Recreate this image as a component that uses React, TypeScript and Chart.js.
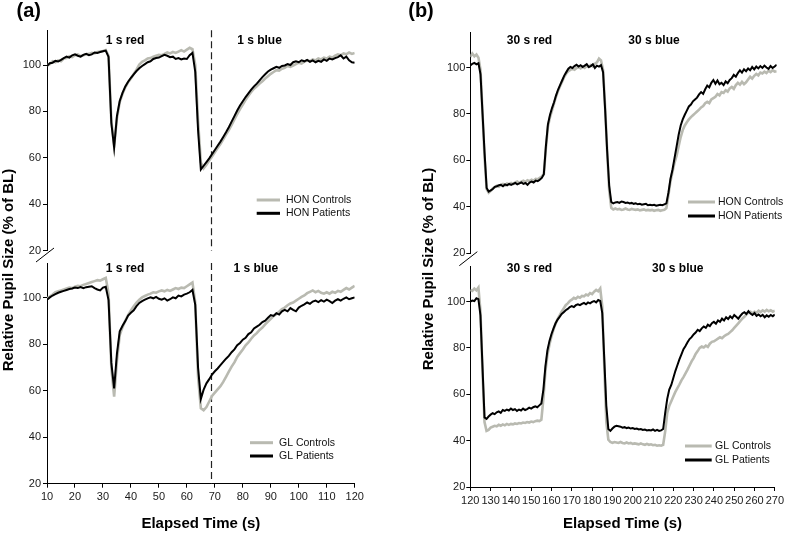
import React, { useEffect, useRef } from 'react';
import { Chart, registerables } from 'chart.js';
Chart.register(...registerables);

const FONT = "'Liberation Sans', Arial, Helvetica, sans-serif";
const GRAY = '#b9bab1';
const BLACK = '#000000';

// ---------- axes ----------
const T_START_A = 10;
const T_END_A = 120;
const T_START_B = 120;
const T_END_B = 270;
const TIME_A = Array.from({ length: T_END_A - T_START_A + 1 }, (_, i) => T_START_A + i);
const TIME_B = Array.from({ length: T_END_B - T_START_B + 1 }, (_, i) => T_START_B + i);
const X_TICKS_A = [10, 20, 30, 40, 50, 60, 70, 80, 90, 100, 110, 120];
const X_TICKS_B = [120, 130, 140, 150, 160, 170, 180, 190, 200, 210, 220, 230, 240, 250, 260, 270];
const Y_TICKS = [20, 40, 60, 80, 100];
const Y_MIN = 20;
const Y_MAX = 115;
const STIM_LINE_A = 68.8;

// ---------- panel (a) top: HON, 1 s stimuli (t = 10..120 s) ----------
const HON_CONTROLS_A = [
  99.8, 100.4, 101.6, 101.2, 102, 101.6, 102.8, 103, 103.8, 103.4,
  104.2, 104.6, 103.8, 104.2, 104.6, 104.8, 105.2, 105, 105.6, 105.8,
  106, 106.4, 104, 76, 65, 77, 84, 87.6, 90.4, 92.6,
  94.2, 96.2, 98, 100.2, 101.4, 102, 102.8, 103, 103.6, 104,
  104.4, 104.2, 104.8, 105.4, 105, 105.6, 105.2, 105.8, 106.4, 105.8,
  106.6, 107.4, 106.8, 100, 76, 58, 55.5, 57, 58.8, 60.6,
  62.4, 64.2, 66, 68, 70, 72, 74.2, 76.6, 78.8, 81,
  83, 85, 86.8, 88.4, 89.8, 90.8, 92, 93, 94.2, 95.2,
  96.2, 97, 97.8, 97.6, 98.4, 98.8, 99.6, 99.2, 99.8, 100.4,
  101, 100.6, 101.4, 102, 101.6, 102.4, 102, 102.8, 102.4, 103.2,
  102.8, 103.6, 103.2, 104, 104.6, 104.2, 105, 104.6, 105.4, 104.8,
  105.2,
];
const HON_PATIENTS_A = [
  99.5, 100.8, 101, 101.8, 101.5, 102.2, 103, 103.6, 103.2, 104.2,
  104.6, 104, 103.6, 104.4, 104.8, 104.2, 104.6, 105.4, 105.2, 105.6,
  105.9, 106.2, 103.5, 75, 64.5, 78, 84.5, 88, 90.8, 92.8,
  94.5, 96, 97.4, 98.6, 99.6, 100.4, 101.2, 101.6, 102.6, 103,
  103.2, 103.8, 104.4, 104, 103.4, 103.6, 102.6, 103, 102.4, 102.8,
  102.6, 104.2, 105.2, 97, 72, 55, 56.6, 58.2, 59.8, 61.6,
  63.4, 65.2, 67, 69, 71, 73.2, 75.6, 78, 80.4, 82.6,
  84.4, 86.2, 87.8, 89.4, 90.8, 92, 93.4, 94.8, 96, 97.2,
  98, 98.6, 99.2, 98.8, 99.6, 99.8, 100.4, 100, 101.2, 101.6,
  101.2, 102, 101.6, 102.2, 101.4, 102, 101.2, 101.8, 101.4, 102.4,
  101.8, 102.8, 102.4, 103, 103.4, 104.2, 102.8, 103.6, 102, 101.2,
  101,
];

// ---------- panel (a) bottom: GL, 1 s stimuli ----------
const GL_CONTROLS_A = [
  99.6, 100.6, 101.4, 102.4, 102.8, 103.2, 103.6, 104, 104.4, 104.2,
  104.8, 105.2, 105, 105.6, 106, 106.4, 106.8, 107.2, 107.6, 107.4,
  108, 108.6, 102, 70, 57.5, 73, 84, 87.4, 90.2, 92.6,
  94.6, 96.4, 98, 99.2, 100.2, 100.8, 101.4, 101.8, 102.4, 102.2,
  102.8, 103.2, 102.8, 103.4, 103, 103.6, 104.2, 103.8, 104.4, 104.2,
  105, 105.8, 106.6, 98, 66, 52.5, 51.6, 53, 55.4, 57.8,
  59.2, 60.6, 62, 63.8, 66, 68.2, 70.4, 72.2, 74.6, 76.2,
  77.8, 79.6, 80.8, 82.4, 83.8, 84.8, 86.2, 87.2, 88.6, 89.8,
  91, 92.2, 93, 94, 95.2, 95.8, 96.8, 97.6, 98, 98.8,
  99.6, 100.4, 101, 102, 102.6, 103.2, 102.4, 103, 102.2, 101.8,
  102.4, 101.8, 102.6, 102.2, 103, 102.6, 103.4, 104.2, 103.6, 104.4,
  105.2,
];
const GL_PATIENTS_A = [
  99.2, 100.2, 101, 101.6, 102.2, 102.6, 103, 103.4, 103.8, 104,
  104.4, 104.2, 104.6, 104.2, 104.6, 104.8, 105, 104.2, 103.6, 103.2,
  104.4, 104.8, 99, 72, 61, 76, 85.6, 88, 90, 92.4,
  93.6, 94.6, 96.4, 97.8, 98.6, 99.2, 99.8, 100.2, 99.8, 100.4,
  99.6, 99.2, 99.8, 98.8, 99.4, 100.2, 99.8, 101, 100.6, 101.4,
  101.8, 102.4, 103.4, 97, 70, 56.5, 60.5, 63.2, 65, 67,
  68.4, 69.6, 71, 72.4, 73.8, 75, 76.6, 77.8, 79.6, 80.6,
  82, 82.8, 84.4, 85.2, 86.8, 87.6, 88.4, 89.6, 90.2, 91.4,
  92.6, 92.2, 93.4, 92.8, 94.2, 94.8, 94.2, 95.6, 94.8, 94.2,
  95.8, 96.6, 97.2, 98, 97.4, 98.4, 98.8, 98.2, 99, 98.4,
  99.2, 98.6, 97.8, 98.8, 99.4, 98.8, 99.6, 100.2, 99.4, 99.8,
  100.2,
];

// ---------- panel (b) top: HON, 30 s stimuli (t = 120..270 s) ----------
const HON_CONTROLS_B = [
  104.6, 106, 104.8, 105.6, 104.2, 99, 80, 61, 47.5, 46,
  46.8, 47.8, 48.4, 49, 48.6, 49.4, 49.8, 49.2, 50, 49.6,
  50.2, 49.8, 50.4, 50.8, 50.2, 50.8, 51.2, 50.6, 51.4, 51,
  51.6, 51.2, 52, 51.8, 52.4, 53, 54, 65, 74.5, 78.5,
  81.5, 84.5, 87.5, 90, 92, 94, 96, 97.4, 98.4, 99,
  99.4, 99, 99.8, 100.2, 99.6, 100.4, 99.8, 100.6, 100.2, 101,
  100.4, 101.6, 102.2, 103.8, 103, 99, 83, 64, 47, 39.5,
  38.8, 39.2, 38.8, 39, 38.6, 38.8, 39.2, 38.8, 38.6, 39,
  38.8, 38.6, 38.8, 38.4, 38.6, 38.8, 38.4, 38.6, 38.4, 38.6,
  38.2, 38.4, 38.6, 38.2, 38.4, 38.6, 39.4, 45, 51, 55,
  59, 62, 66, 70, 73, 75, 76.4, 77.6, 78.6, 79.4,
  80.2, 81, 81.8, 82.8, 83.4, 84.6, 85.2, 84.6, 86.2, 86.8,
  87.4, 88.6, 88, 89.4, 89, 90.2, 89.6, 91, 91.6, 90.8,
  92.4, 93.4, 92.6, 93.8, 92.8, 93.6, 94.8, 96, 95.2, 96.4,
  97.2, 96.6, 97.8, 97.4, 98.2, 97.6, 98.6, 98, 98.8, 98.2,
  98.4,
];
const HON_PATIENTS_B = [
  100.8, 101.6, 102, 101.4, 101.8, 97, 80, 63, 48, 46.5,
  47, 47.6, 48.5, 48.8, 49.2, 49.4, 48.8, 49.6, 49.2, 49.8,
  49.4, 49.8, 50.2, 49.6, 50, 50.4, 49.8, 50.2, 49.4, 50.4,
  50.8, 50.4, 51.2, 51, 51.6, 52.4, 54, 66, 75.5, 79.5,
  82.5, 85, 88, 90.5, 92.5, 94.5, 96.5, 98, 99.5, 100.2,
  99.8, 100.6, 101.2, 100.4, 101, 100.2, 100.8, 101.4, 100.2, 100.6,
  101.4, 99.8, 100.8, 100.4, 101, 98, 82, 64, 49, 42,
  41.4, 41.8, 42, 41.6, 42.2, 42, 41.6, 41.8, 41.4, 41.6,
  41.2, 41.4, 41, 41.2, 40.8, 41, 41.2, 40.6, 40.8, 40.6,
  40.8, 40.4, 40.6, 40.8, 40.6, 41, 41.4, 46, 52, 56,
  61, 66, 71, 75, 77.6, 79.6, 81.4, 83.2, 84, 85.4,
  86.2, 87, 88.4, 89.4, 88.6, 90.6, 92.2, 91.4, 93.4, 94.6,
  93, 94.4, 92.8, 93.4, 92.4, 94, 93.2, 94.6, 95.4, 96.8,
  96, 97.6, 98.8, 97.8, 99.2, 98.4, 99.6, 98.8, 100.2, 99.2,
  100.4, 99.6, 100.6, 99.8, 100.8, 100, 99.4, 100.6, 99.8, 100.4,
  101.2,
];

// ---------- panel (b) bottom: GL, 30 s stimuli ----------
const GL_CONTROLS_B = [
  105, 104.6, 105.6, 104.8, 106, 96, 70, 48, 44.2, 44.6,
  45.6, 46, 46.4, 46.2, 46.8, 46.4, 47, 46.6, 47.2, 46.8,
  47.2, 47, 47.4, 47.2, 47.6, 47.4, 47.8, 47.6, 48, 47.8,
  48.2, 48, 48.4, 48.6, 48.4, 49, 58, 70, 77, 81.5,
  85, 88, 90.4, 92.4, 94, 95.6, 97, 98.4, 99.2, 100.2,
  100.8, 101.6, 101.2, 102, 101.6, 102.4, 102.2, 103, 102.6, 103.6,
  103.2, 104.2, 105, 104.4, 105.6, 98, 72, 48, 40.4, 39.4,
  39, 39.4, 39.2, 39, 39.4, 39, 38.8, 39.2, 38.8, 39,
  38.6, 38.8, 38.6, 38.4, 38.8, 38.4, 38.2, 38.6, 38.2, 38.4,
  38, 38.2, 37.8, 38, 37.8, 38.2, 44, 52, 55, 57,
  59, 61, 62.6, 64.2, 66, 67.4, 69, 70.6, 72.4, 74.2,
  75.6, 77.4, 78.6, 80, 80.6, 80.2, 81, 80.4, 81.8, 82.6,
  82.8, 83.4, 84, 84.6, 84.2, 85, 85.6, 86, 86.8, 87.6,
  88.6, 89.6, 90.6, 91.6, 92.6, 93.4, 94.4, 95.2, 95.6, 94.8,
  95.6, 95.2, 96, 95.4, 96.2, 95.6, 96.4, 95.8, 96.2, 95.6,
  96,
];
const GL_PATIENTS_B = [
  100, 100.4, 100.2, 101.4, 101, 94, 72, 50, 49.4, 50.4,
  51.2, 51.8, 51.4, 52.2, 52.6, 52, 53.2, 52.8, 53.4, 53,
  53.8, 53.2, 53.6, 52.8, 53.4, 53, 53.8, 53.2, 53.6, 54.2,
  53.8, 54.4, 54.8, 54.4, 55.2, 56, 62, 72, 79, 83,
  86, 88.4, 90.6, 92.2, 93.4, 94.6, 95.4, 96.2, 96.8, 97.6,
  98, 97.6, 98.4, 98.8, 98.4, 99, 99.4, 98.8, 99.6, 99.2,
  99.8, 100.2, 99.6, 100.6, 100.2, 95, 75, 55, 45, 44.2,
  45.2, 46, 46.4, 46.2, 46, 45.6, 45.8, 45.4, 45.6, 45.2,
  45.4, 45, 45.2, 44.8, 45, 44.6, 44.8, 44.4, 44.6, 44.4,
  44.8, 44.2, 44.6, 44.2, 44.4, 45, 52, 58, 62, 64,
  67, 70, 72.5, 75, 77.2, 79.4, 80.8, 82.4, 83.8, 84.6,
  85.8, 86.6, 87.8, 87.2, 88.4, 89.2, 88.6, 90, 89.4, 90.6,
  91.2, 90.4, 91.8, 91.2, 92.6, 91.8, 93.2, 92.4, 93.6, 92.8,
  94.2, 93.4, 92.6, 93.8, 94.8, 95.4, 94.6, 95.8, 94.8, 94.2,
  95, 93.8, 94.4, 93.6, 94.2, 93.2, 94, 93.4, 94.2, 93.6,
  94.4,
];

const Y_TITLE = 'Relative Pupil Size (% of BL)';
const X_TITLE = 'Elapsed Time (s)';

type Note = { text: string; x: number; y: number };
type Spec = {
  id: string;
  times: number[];
  ctl: number[];
  pat: number[];
  labels: [string, string];
  xMin: number;
  xMax: number;
  xTicks: number[];
  showX: boolean;
  padding: { left: number; top: number; right: number; bottom: number };
  yWidth: number;
  xHeight: number;
  yTickPad: number;
  notes: Note[];
  legend: { x1: number; x2: number; y1: number; y2: number; tx: number };
  vline?: number;
  breakMark?: boolean;
  yTitle?: { x: number; y: number };
  panelLabel?: { text: string; x: number; y: number };
};

function buildChart(canvas: HTMLCanvasElement, s: Spec) {
  const overlay = {
    id: 'overlay',
    beforeDatasetsDraw(chart: any) {
      if (s.vline === undefined) return;
      const ctx = chart.ctx;
      const ca = chart.chartArea;
      const px = Math.round(chart.scales.x.getPixelForValue(s.vline)) + 0.5;
      ctx.save();
      ctx.setLineDash([7, 4]);
      ctx.strokeStyle = '#222';
      ctx.lineWidth = 1.2;
      ctx.beginPath();
      ctx.moveTo(px, ca.top);
      ctx.lineTo(px, ca.bottom);
      ctx.stroke();
      ctx.restore();
    },
    afterDraw(chart: any) {
      const ctx = chart.ctx;
      const ca = chart.chartArea;
      ctx.save();
      // stimulus notes
      ctx.fillStyle = '#000';
      ctx.font = `bold 12px ${FONT}`;
      ctx.textAlign = 'center';
      ctx.textBaseline = 'middle';
      s.notes.forEach((n) => ctx.fillText(n.text, n.x, n.y));
      // legend
      const L = s.legend;
      ctx.lineWidth = 3;
      ctx.strokeStyle = GRAY;
      ctx.beginPath();
      ctx.moveTo(L.x1, L.y1);
      ctx.lineTo(L.x2, L.y1);
      ctx.stroke();
      ctx.strokeStyle = BLACK;
      ctx.beginPath();
      ctx.moveTo(L.x1, L.y2);
      ctx.lineTo(L.x2, L.y2);
      ctx.stroke();
      ctx.font = `10.5px ${FONT}`;
      ctx.textAlign = 'left';
      ctx.fillStyle = '#111';
      ctx.fillText(s.labels[0], L.tx, L.y1);
      ctx.fillText(s.labels[1], L.tx, L.y2);
      // axis break
      if (s.breakMark) {
        ctx.strokeStyle = '#000';
        ctx.lineWidth = 1;
        ctx.beginPath();
        ctx.moveTo(ca.left - 11, ca.top - 1);
        ctx.lineTo(ca.left + 7, ca.top - 15);
        ctx.stroke();
      }
      if (s.yTitle) {
        ctx.save();
        ctx.translate(s.yTitle.x, s.yTitle.y);
        ctx.rotate(-Math.PI / 2);
        ctx.font = `bold 15px ${FONT}`;
        ctx.textAlign = 'center';
        ctx.textBaseline = 'middle';
        ctx.fillStyle = '#000';
        ctx.fillText(Y_TITLE, 0, 0);
        ctx.restore();
      }
      if (s.panelLabel) {
        ctx.font = `bold 20px ${FONT}`;
        ctx.textAlign = 'center';
        ctx.textBaseline = 'middle';
        ctx.fillStyle = '#000';
        ctx.fillText(s.panelLabel.text, s.panelLabel.x, s.panelLabel.y);
      }
      ctx.restore();
    },
  };

  const axisGrid = { drawOnChartArea: false, drawTicks: true, tickLength: 4, color: '#000', lineWidth: 1 };
  const axisBorder = { display: true, color: '#000', width: 1 };

  return new Chart(canvas, {
    type: 'line',
    data: {
      datasets: [
        {
          label: s.labels[1],
          data: s.times.map((t, i) => ({ x: t, y: s.pat[i] })),
          borderColor: BLACK,
          borderWidth: 2,
          pointRadius: 0,
          tension: 0,
          order: 0,
        },
        {
          label: s.labels[0],
          data: s.times.map((t, i) => ({ x: t, y: s.ctl[i] })),
          borderColor: GRAY,
          borderWidth: 2.6,
          pointRadius: 0,
          tension: 0,
          order: 1,
        },
      ],
    },
    options: {
      animation: false,
      responsive: false,
      maintainAspectRatio: false,
      devicePixelRatio: 1,
      layout: { padding: s.padding },
      plugins: { legend: { display: false }, tooltip: { enabled: false } },
      scales: {
        x: {
          type: 'linear',
          min: s.xMin,
          max: s.xMax,
          display: s.showX,
          afterBuildTicks: (sc: any) => {
            sc.ticks = s.xTicks.map((v) => ({ value: v }));
          },
          afterFit: (sc: any) => {
            sc.height = s.xHeight;
          },
          ticks: {
            autoSkip: false,
            maxRotation: 0,
            padding: 3,
            color: '#1a1a1a',
            font: { family: FONT, size: 11 },
          },
          grid: axisGrid,
          border: axisBorder,
          title: {
            display: true,
            text: X_TITLE,
            color: '#000',
            font: { family: FONT, size: 15, weight: 'bold' },
            padding: { top: 0, bottom: 0 },
          },
        },
        y: {
          type: 'linear',
          min: Y_MIN,
          max: Y_MAX,
          afterBuildTicks: (sc: any) => {
            sc.ticks = Y_TICKS.map((v) => ({ value: v }));
          },
          afterFit: (sc: any) => {
            sc.width = s.yWidth;
          },
          ticks: {
            padding: s.yTickPad,
            color: '#1a1a1a',
            font: { family: FONT, size: 11 },
          },
          grid: axisGrid,
          border: axisBorder,
        },
      },
    },
    plugins: [overlay],
  } as any);
}

const PANEL_H = 539;
const A_LEFT = 0;
const A_W = 393;
const B_LEFT = 393;
const B_W = 394;

const SPECS: { left: number; width: number; spec: Spec }[] = [
  {
    left: A_LEFT,
    width: A_W,
    spec: {
      id: 'a-top',
      times: TIME_A,
      ctl: HON_CONTROLS_A,
      pat: HON_PATIENTS_A,
      labels: ['HON Controls', 'HON Patients'],
      xMin: T_START_A,
      xMax: T_END_A,
      xTicks: X_TICKS_A,
      showX: false,
      padding: { left: 0, top: 30.2, right: 38.3, bottom: 288.3 },
      yWidth: 47,
      xHeight: 0,
      yTickPad: 2,
      notes: [
        { text: '1 s red', x: 125, y: 40.7 },
        { text: '1 s blue', x: 259.5, y: 40.7 },
      ],
      legend: { x1: 256.7, x2: 280, y1: 200, y2: 213.3, tx: 286 },
      vline: STIM_LINE_A,
      panelLabel: { text: '(a)', x: 28.7, y: 11 },
    },
  },
  {
    left: A_LEFT,
    width: A_W,
    spec: {
      id: 'a-bottom',
      times: TIME_A,
      ctl: GL_CONTROLS_A,
      pat: GL_PATIENTS_A,
      labels: ['GL Controls', 'GL Patients'],
      xMin: T_START_A,
      xMax: T_END_A,
      xTicks: X_TICKS_A,
      showX: true,
      padding: { left: 0, top: 263, right: 38.3, bottom: 6 },
      yWidth: 47,
      xHeight: 49.3,
      yTickPad: 2,
      notes: [
        { text: '1 s red', x: 125, y: 268.3 },
        { text: '1 s blue', x: 255.8, y: 268.3 },
      ],
      legend: { x1: 250, x2: 273, y1: 442.7, y2: 456, tx: 279 },
      vline: STIM_LINE_A,
      breakMark: true,
      yTitle: { x: 9, y: 270 },
    },
  },
  {
    left: B_LEFT,
    width: B_W,
    spec: {
      id: 'b-top',
      times: TIME_B,
      ctl: HON_CONTROLS_B,
      pat: HON_PATIENTS_B,
      labels: ['HON Controls', 'HON Patients'],
      xMin: T_START_B,
      xMax: T_END_B,
      xTicks: X_TICKS_B,
      showX: false,
      padding: { left: 0, top: 32.7, right: 10.3, bottom: 286 },
      yWidth: 77.3,
      xHeight: 0,
      yTickPad: 1,
      notes: [
        { text: '30 s red', x: 136.5, y: 40.7 },
        { text: '30 s blue', x: 261, y: 40.7 },
      ],
      legend: { x1: 295, x2: 322, y1: 202, y2: 216, tx: 325 },
      panelLabel: { text: '(b)', x: 28, y: 11 },
    },
  },
  {
    left: B_LEFT,
    width: B_W,
    spec: {
      id: 'b-bottom',
      times: TIME_B,
      ctl: GL_CONTROLS_B,
      pat: GL_PATIENTS_B,
      labels: ['GL Controls', 'GL Patients'],
      xMin: T_START_B,
      xMax: T_END_B,
      xTicks: X_TICKS_B,
      showX: true,
      padding: { left: 0, top: 266.7, right: 10.3, bottom: 6 },
      yWidth: 77.3,
      xHeight: 46,
      yTickPad: 1,
      notes: [
        { text: '30 s red', x: 136.5, y: 268.3 },
        { text: '30 s blue', x: 284.8, y: 268.3 },
      ],
      legend: { x1: 292, x2: 318.7, y1: 446, y2: 460, tx: 322 },
      breakMark: true,
      yTitle: { x: 36, y: 269 },
    },
  },
];

export default function App() {
  const refs = useRef<(HTMLCanvasElement | null)[]>([]);

  useEffect(() => {
    const charts = SPECS.map((item, i) => buildChart(refs.current[i] as HTMLCanvasElement, item.spec));
    return () => {
      charts.forEach((c) => c.destroy());
    };
  }, []);

  return (
    <div
      style={{
        position: 'fixed',
        left: 0,
        top: 0,
        width: 787,
        height: PANEL_H,
        background: '#ffffff',
        overflow: 'hidden',
      }}
    >
      {SPECS.map((item, i) => (
        <canvas
          key={item.spec.id}
          ref={(el) => {
            refs.current[i] = el;
          }}
          width={item.width}
          height={PANEL_H}
          style={{
            position: 'absolute',
            left: item.left,
            top: 0,
            width: item.width,
            height: PANEL_H,
          }}
        />
      ))}
    </div>
  );
}
